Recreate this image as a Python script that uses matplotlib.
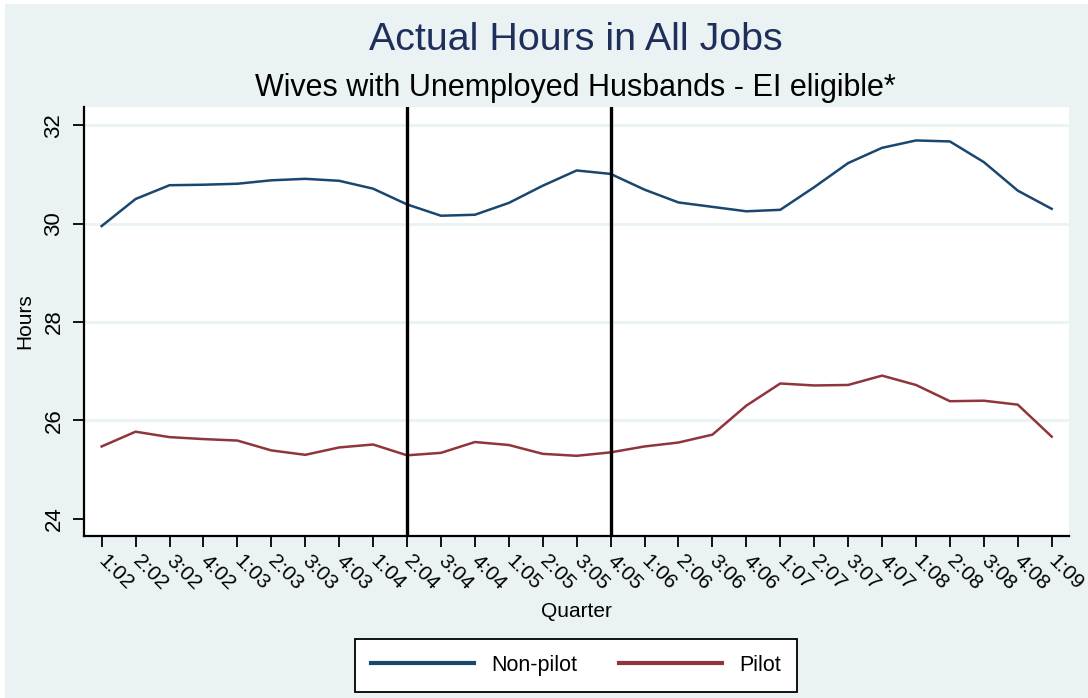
import matplotlib
matplotlib.use('Agg')
import matplotlib.pyplot as plt
from matplotlib.patches import Rectangle

plt.rcParams['font.family'] = ['Liberation Sans', 'DejaVu Sans']

# quarters 1:02 .. 1:09
quarters = ["1:02", "2:02", "3:02", "4:02", "1:03", "2:03", "3:03", "4:03",
            "1:04", "2:04", "3:04", "4:04", "1:05", "2:05", "3:05", "4:05",
            "1:06", "2:06", "3:06", "4:06", "1:07", "2:07", "3:07", "4:07",
            "1:08", "2:08", "3:08", "4:08", "1:09"]

non_pilot = [29.95, 30.50, 30.78, 30.79, 30.81, 30.88, 30.91, 30.87,
             30.71, 30.39, 30.16, 30.18, 30.42, 30.77, 31.08, 31.01,
             30.69, 30.43, 30.34, 30.25, 30.28, 30.74, 31.23, 31.54,
             31.69, 31.67, 31.25, 30.67, 30.30]

pilot = [25.47, 25.77, 25.66, 25.62, 25.59, 25.39, 25.30, 25.45,
         25.51, 25.29, 25.34, 25.56, 25.50, 25.32, 25.28, 25.35,
         25.47, 25.55, 25.71, 26.30, 26.75, 26.71, 26.72, 26.91,
         26.72, 26.39, 26.40, 26.32, 25.67]

# quarters marked with vertical reference lines
marked_quarters = ["2:04", "4:05"]
y_ticks = [24, 26, 28, 30, 32]

bg = '#EAF2F3'
navy = '#1A476F'
maroon = '#90353B'
title_color = '#1F2F5C'

fig = plt.figure(figsize=(10.88, 6.98), dpi=100)
fig.patch.set_facecolor('white')
# Stata style outer background (small white strip top/left)
fig.patches.append(Rectangle((5 / 1088, 0), 1 - 5 / 1088, 1 - 4 / 698,
                             transform=fig.transFigure, facecolor=bg,
                             edgecolor='none', zorder=-10))

ax = fig.add_axes([84 / 1088, 1 - 536 / 698, (1069 - 84) / 1088, (536 - 107) / 698])
ax.set_facecolor('white')

x = range(len(quarters))
ax.plot(x, non_pilot, color=navy, lw=1.8, label='Non-pilot', zorder=3)
ax.plot(x, pilot, color=maroon, lw=1.8, label='Pilot', zorder=3)

for q in marked_quarters:
    ax.axvline(quarters.index(q), color='black', lw=2.4, zorder=4)

ax.set_xlim(-0.52, len(quarters) - 0.49)
ax.set_ylim(23.65, 32.37)

ax.set_yticks(y_ticks)
ax.set_yticklabels([str(v) for v in y_ticks], rotation=90, va='center')
ax.set_xticks(list(x))
ax.set_xticklabels(quarters, rotation=-45, ha='left', va='center',
                   rotation_mode='anchor', fontsize=15)

ax.yaxis.grid(True, color=bg, lw=2)
ax.get_ygridlines()[0].set_visible(False)
ax.set_axisbelow(True)

for side in ['top', 'right']:
    ax.spines[side].set_visible(False)
for side in ['left', 'bottom']:
    ax.spines[side].set_linewidth(1.6)
    ax.spines[side].set_color('black')
ax.tick_params(axis='both', length=8, width=1.3, color='black')
ax.tick_params(axis='y', labelsize=16, pad=6)
ax.tick_params(axis='x', pad=8)

ax.set_ylabel('Hours', fontsize=15, labelpad=7)
ax.set_xlabel('Quarter', fontsize=15, labelpad=6)

fig.text(0.529, 1 - 40 / 698, 'Actual Hours in All Jobs', ha='center', va='center',
         fontsize=28.4, color=title_color)
fig.text(0.529, 1 - 88 / 698, 'Wives with Unemployed Husbands - EI eligible*',
         ha='center', va='center', fontsize=22, color='black')

leg = fig.legend(loc='center', bbox_to_anchor=(576 / 1088, 1 - 665.5 / 698), ncol=2,
                 fontsize=15.5, handlelength=4.8, handletextpad=0.8, columnspacing=1.9,
                 borderpad=0.75, fancybox=False, edgecolor='black', framealpha=1)
leg.get_frame().set_linewidth(1.3)
for line in leg.get_lines():
    line.set_linewidth(3)

fig.savefig('out.png', dpi=100, facecolor=fig.get_facecolor())
